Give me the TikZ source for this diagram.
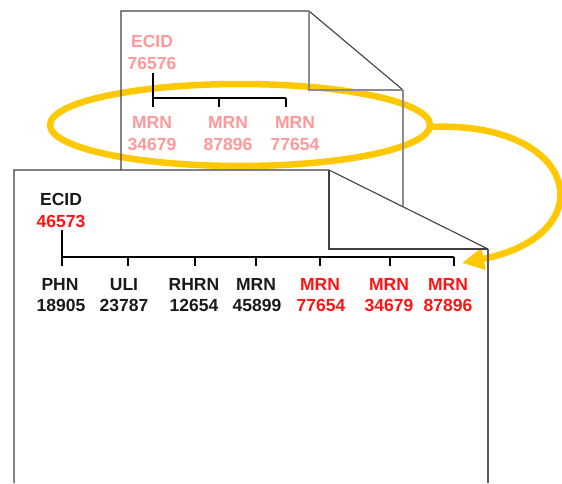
\documentclass[tikz,border=0pt]{standalone}
\usepackage{fontspec}
\setmainfont{Liberation Sans}
\usetikzlibrary{arrows.meta}
\definecolor{gold}{HTML}{FFC800}
\definecolor{pinkt}{HTML}{FF9999}
\definecolor{redt}{HTML}{FF1414}
\definecolor{blackt}{HTML}{1A1A1A}
\begin{document}
\begin{tikzpicture}[x=1pt,y=-1pt,
  lbl/.style={anchor=base,inner sep=0pt,font=\fontsize{17.5}{21}\selectfont\bfseries},
  pk/.style={lbl,text=pinkt},
  bk/.style={lbl,text=blackt},
  rd/.style={lbl,text=redt},
  edge/.style={draw=black!75,line width=1.1pt},
  faint/.style={draw=black!45,line width=1.1pt},
  tree/.style={draw=black,line width=2.6pt},
  tick/.style={draw=black,line width=2pt},
  hilite/.style={draw=gold,line width=6.5pt},
]
\useasboundingbox (0,0) rectangle (562,483);

% document outlines (corners)
\coordinate (bTL) at (121,11);
\coordinate (bTR) at (309,11);
\coordinate (bCR) at (403,90);
\coordinate (bF) at (309,90);
\coordinate (bRE) at (403,205.6);
\coordinate (bLE) at (121,170);
\coordinate (fTL) at (14,170);
\coordinate (fTR) at (329,170);
\coordinate (fCR) at (488,249);
\coordinate (fF) at (329,249);
\coordinate (fBR) at (488,483);
\coordinate (fBL) at (14,483);

% fills
\fill[white] (bTL) -- (bTR) -- (bCR) -- (403,300) -- (121,300) -- cycle;
\fill[white] (fTL) -- (fTR) -- (fCR) -- (fBR) -- (fBL) -- cycle;

% highlight ellipse and arrow
\draw[hilite] (240,125) ellipse [x radius=190pt, y radius=41pt];
\coordinate (arrS) at (430,127);
\coordinate (arrE) at (462,263);
\draw[hilite,-{Triangle[length=22pt,width=21pt]}] (arrS) .. controls (580,120) and (605,235) .. (arrE);

% back document edges
\draw[edge] (bLE) -- (bTL) -- (bTR) -- (bCR);
\draw[faint] (bCR) -- (bRE);
\draw[faint] (bTR) -- (bF) -- (bCR);

% front document edges
\draw[edge] (fBL) -- (fTL) -- (fTR) -- (fCR);
\draw[edge,draw=black!65] (fCR) -- (fBR);
\draw[edge] (fTR) -- (fF) -- (fCR);

% back tree
\node[pk] (becid) at (152,47) {ECID};
\node[pk] (bnum) at (152,69) {76576};
\node[pk] (bm1) at (152,128) {MRN};
\node[pk] (bn1) at (152,150) {34679};
\node[pk] (bm2) at (228,128) {MRN};
\node[pk] (bn2) at (228,150) {87896};
\node[pk] (bm3) at (295,128) {MRN};
\node[pk] (bn3) at (295,150) {77654};
\coordinate (bs0) at (153,73);
\coordinate (bb1) at (153,98);
\coordinate (bb2) at (219,98);
\coordinate (bb3) at (286,98);
\draw[tree,line width=2.2pt] (bs0) -- (153,107);
\draw[tree,line width=2.2pt] (bb1) -- (bb3);
\draw[tick,line width=1.8pt] (bb2) -- (219,107);
\draw[tick,line width=1.8pt] (bb3) -- (286,107);

% front tree
\node[bk] (fecid) at (61,205) {ECID};
\node[rd] (fnum) at (61,227) {46573};
\node[bk] (l1) at (60,290) {PHN};
\node[bk] (n1) at (61,311) {18905};
\node[bk] (l2) at (124,290) {ULI};
\node[bk] (n2) at (124,311) {23787};
\node[bk] (l3) at (194,290) {RHRN};
\node[bk] (n3) at (194,311) {12654};
\node[bk] (l4) at (256,290) {MRN};
\node[bk] (n4) at (257,311) {45899};
\node[rd] (l5) at (320,290) {MRN};
\node[rd] (n5) at (321,311) {77654};
\node[rd] (l6) at (389,290) {MRN};
\node[rd] (n6) at (389,311) {34679};
\node[rd] (l7) at (448,290) {MRN};
\node[rd] (n7) at (448,311) {87896};

\coordinate (fs0) at (62,230);
\coordinate (fb1) at (62,257);
\coordinate (fb7) at (454,257);
\draw[tree] (fs0) -- (62,266);
\draw[tree] (fb1) -- (fb7);
\foreach \x in {128,195,256,320,390,454}
  \draw[tick] (\x,257) -- (\x,266);
\end{tikzpicture}
\end{document}
